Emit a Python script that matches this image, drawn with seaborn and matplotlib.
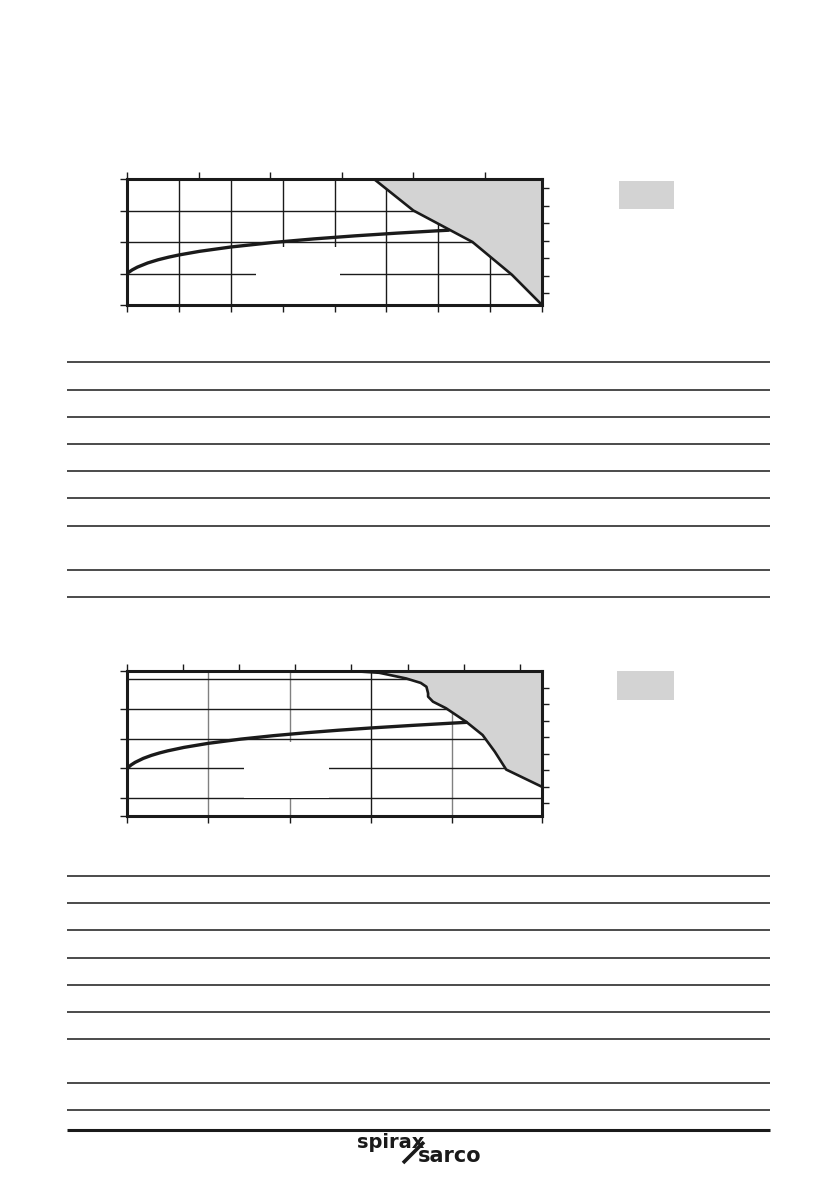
import numpy as np
import pandas as pd
import matplotlib
matplotlib.use("Agg")
import matplotlib.pyplot as plt
import seaborn as sns
from matplotlib.patches import Rectangle

# ---------------- data ----------------
# Chart 1: steam saturation curve (pressure bar g, temperature degC)
sat1_p = [0, 0.5, 1, 2, 3, 4, 5, 7, 10, 14, 18, 22, 26, 30, 31]
sat1_t = [100, 111.4, 120.2, 133.5, 143.6, 151.8, 158.8, 170.4, 184.1, 198.3,
          209.8, 219.6, 228.1, 235.7, 237.4]
# Chart 1: limit of the grey region
lim1_p = [23.8, 27.6, 33.3, 37.1, 40.0]
lim1_t = [400, 300, 200, 96, 0]

# Chart 2: steam saturation curve
sat2_p = [0, 0.5, 1, 2, 3, 4, 5, 7, 10, 14, 18, 22, 26, 30, 35, 40, 41.7]
sat2_t = [100, 111.4, 120.2, 133.5, 143.6, 151.8, 158.8, 170.4, 184.1, 198.3,
          209.8, 219.6, 228.1, 235.7, 244.2, 252.0, 254.5]
# Chart 2: limit of the grey region
lim2_p = [27.5, 31.0, 34.3, 36.1, 36.8, 37.0, 37.0, 37.6, 39.2, 41.7, 43.7, 45.2, 46.6, 51.0]
lim2_t = [427, 421, 402, 387, 374, 352, 341, 324, 302, 256, 212, 156, 96, 38]

# Axis ranges / ticks
x1_range, y1_range = (0, 40), (0, 400)
x2_range, y2_range = (0, 51), (-60, 427)
x1_grid = [5, 10, 15, 20, 25, 30, 35]
y1_grid = [100, 200, 300]
x1_ticks = [0, 5, 10, 15, 20, 25, 30, 35, 40]
y1_ticks = [0, 100, 200, 300, 400]
psi1_ticks = [0, 100, 200, 300, 400, 500]
degf1_ticks = [100, 200, 300, 400, 500, 600, 700]

x2_grid = [10, 20, 30, 40]
x2_grid_col = ['#808080', '#808080', '#1a1a1a', '#808080']
y2_grid = [0, 100, 200, 300, 400]
x2_ticks = [0, 10, 20, 30, 40, 51]
y2_ticks = [-60, 0, 100, 200, 300, 427]
psi2_ticks = [0, 100, 200, 300, 400, 500, 600, 700]
degf2_ticks = [0, 100, 200, 300, 400, 500, 600, 700]

# page furniture (pixel rows of table rules)
table1_rows = [362, 390, 417, 444, 471, 498, 526, 570, 597]
table2_rows = [876, 903, 930, 958, 985, 1012, 1039, 1083, 1110]

# ---------------- figure ----------------
sns.set_theme(style="white")
plt.rcParams['font.family'] = ['DejaVu Sans']
W, H = 839, 1191
fig = plt.figure(figsize=(W / 100, H / 100), dpi=100)
fig.patch.set_facecolor('white')

INK = '#1a1a1a'
GREY = '#d3d3d3'

# overlay for page furniture
ov = fig.add_axes([0, 0, 1, 1], zorder=0)
ov.set_xlim(0, W)
ov.set_ylim(H, 0)
ov.axis('off')
ov.patch.set_alpha(0)
ov.hlines(table1_rows, 67, 770, color=INK, lw=1.1)
ov.hlines(table2_rows, 67, 770, color=INK, lw=1.1)
ov.hlines([1130], 67, 770, color=INK, lw=2.2)
ov.add_patch(Rectangle((619, 181), 55, 28, facecolor=GREY, edgecolor='none'))
ov.add_patch(Rectangle((617, 671), 57, 29, facecolor=GREY, edgecolor='none'))
# logo
ov.text(357, 1148.5, 'spirax', fontsize=14, fontweight='heavy', color=INK,
        ha='left', va='baseline', family='DejaVu Sans')
ov.text(418, 1162.5, 'sarco', fontsize=15, fontweight='heavy', color=INK,
        ha='left', va='baseline', family='DejaVu Sans')
ov.plot([403, 424], [1163, 1142], color=INK, lw=2.6, solid_capstyle='butt')


def px_axes(left, top, right, bottom):
    return fig.add_axes([left / W, 1 - bottom / H, (right - left) / W, (bottom - top) / H], zorder=2)


def style_chart(ax, xr, yr, xg, yg, xt, yt, psi_t, degf_t, xg_col=None):
    ax.set_xlim(*xr)
    ax.set_ylim(*yr)
    for i, v in enumerate(xg):
        c = xg_col[i] if xg_col else INK
        ax.axvline(v, color=c, lw=1.0, zorder=1)
    for v in yg:
        ax.axhline(v, color=INK, lw=1.0, zorder=1)
    ax.set_xticks(xt)
    ax.set_yticks(yt)
    ax.tick_params(axis='both', which='major', direction='out', length=5, width=1,
                   color=INK, labelbottom=False, labelleft=False,
                   bottom=True, left=True)
    for s in ax.spines.values():
        s.set_visible(True)
        s.set_linewidth(2.2)
        s.set_color(INK)
        s.set_zorder(5)
    ax.set_xlabel('')
    ax.set_ylabel('')
    top = ax.secondary_xaxis('top', functions=(lambda b: b * 14.5038, lambda p: p / 14.5038))
    top.set_xticks(psi_t)
    top.tick_params(direction='out', length=5, width=1, color=INK, labeltop=False)
    top.spines['top'].set_visible(False)
    right = ax.secondary_yaxis('right', functions=(lambda c: c * 1.8 + 32, lambda f: (f - 32) / 1.8))
    right.set_yticks(degf_t)
    right.tick_params(direction='out', length=5, width=1, color=INK, labelright=False)
    right.spines['right'].set_visible(False)


# ---------------- chart 1 ----------------
ax1 = px_axes(127, 179, 542, 305)
style_chart(ax1, x1_range, y1_range, x1_grid, y1_grid, x1_ticks, y1_ticks,
            psi1_ticks, degf1_ticks)
ax1.add_patch(Rectangle((12.4, 0), 8.1, 184, facecolor='white', edgecolor='none', zorder=1.5))
ax1.fill_betweenx(lim1_t, lim1_p, x1_range[1], color=GREY, zorder=2, linewidth=0)
df1s = pd.DataFrame({'p': sat1_p, 't': sat1_t})
df1l = pd.DataFrame({'p': lim1_p, 't': lim1_t})
sns.lineplot(data=df1s, x='p', y='t', sort=False, estimator=None, color=INK, lw=2.4, ax=ax1, zorder=4)
sns.lineplot(data=df1l, x='p', y='t', sort=False, estimator=None, color=INK, lw=1.9, ax=ax1, zorder=4)
ax1.set_xlabel('')
ax1.set_ylabel('')

# ---------------- chart 2 ----------------
ax2 = px_axes(127, 671, 542, 816)
style_chart(ax2, x2_range, y2_range, x2_grid, y2_grid, x2_ticks, y2_ticks,
            psi2_ticks, degf2_ticks, xg_col=x2_grid_col)
ax2.add_patch(Rectangle((14.4, 2), 10.4, 186, facecolor='white', edgecolor='none', zorder=1.5))
ax2.fill_betweenx(lim2_t, lim2_p, x2_range[1], color=GREY, zorder=2, linewidth=0)
df2s = pd.DataFrame({'p': sat2_p, 't': sat2_t})
df2l = pd.DataFrame({'p': lim2_p, 't': lim2_t})
sns.lineplot(data=df2s, x='p', y='t', sort=False, estimator=None, color=INK, lw=2.4, ax=ax2, zorder=4)
sns.lineplot(data=df2l, x='p', y='t', sort=False, estimator=None, color=INK, lw=1.9, ax=ax2, zorder=4)
ax2.set_xlabel('')
ax2.set_ylabel('')

fig.savefig('out.png', dpi=100, facecolor='white')
